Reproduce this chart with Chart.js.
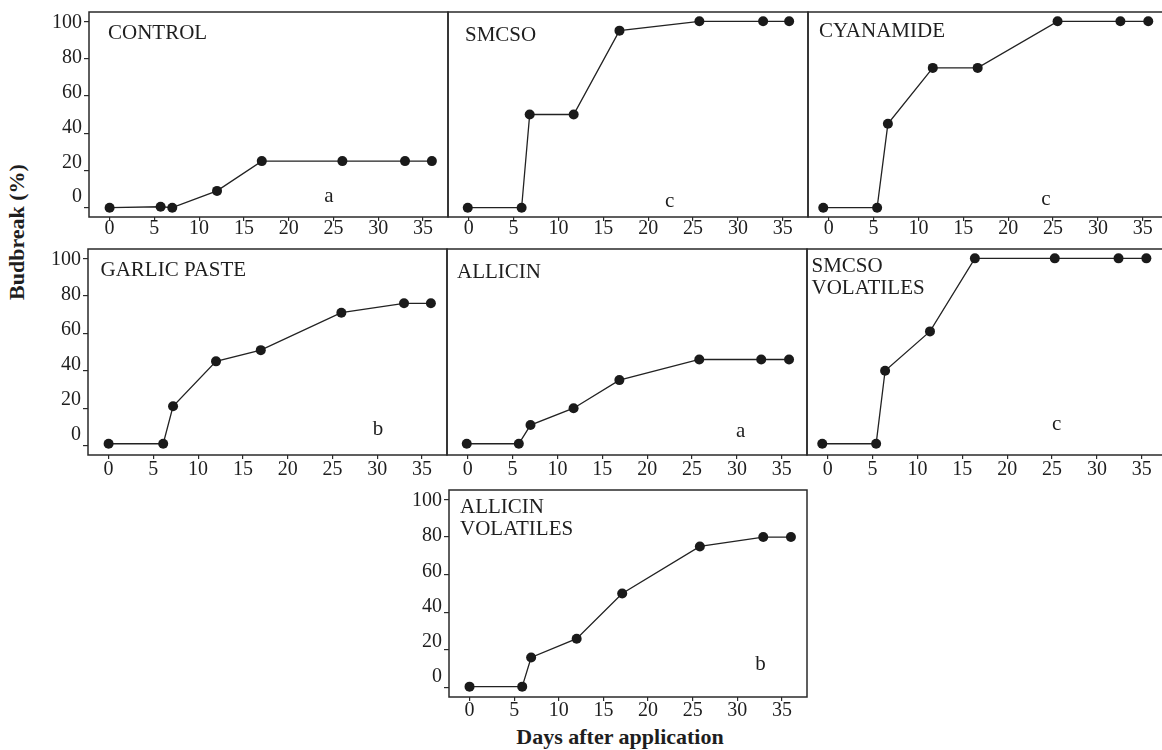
<!DOCTYPE html>
<html>
<head>
<meta charset="utf-8">
<script src="https://cdn.jsdelivr.net/npm/chart.js@4.4.0/dist/chart.umd.min.js"></script>
<style>
html,body{margin:0;padding:0;background:#fff;overflow:hidden;width:1162px;height:750px;position:relative;font-family:"Liberation Serif","Times New Roman",serif;color:#1e1e1e;}
.pw{position:absolute;}
.pw canvas{display:block;}
#ytitle{position:absolute;left:17px;top:232px;transform:translate(-50%,-50%) rotate(-90deg);font-weight:bold;font-size:22px;line-height:22px;white-space:nowrap;}
#xtitle{position:absolute;left:620px;top:726px;transform:translateX(-50%);font-weight:bold;font-size:22px;line-height:22px;white-space:nowrap;}
</style>
</head>
<body>
<div id="ytitle">Budbreak (%)</div>
<div id="xtitle">Days after application</div>
<script>
// ---- data ----
const xTicks = [0, 5, 10, 15, 20, 25, 30, 35];
const yTicks = [0, 20, 40, 60, 80, 100];

const namesControl = ["CONTROL"];
const daysControl = [0, 5.7, 7, 12, 17, 26, 33, 36];
const valsControl = [0, 0.5, 0, 9, 25, 25, 25, 25];

const namesSmcso = ["SMCSO"];
const daysSmcso = [-0.1, 5.9, 6.8, 11.7, 16.8, 25.7, 32.8, 35.7];
const valsSmcso = [0, 0, 50, 50, 95, 100, 100, 100];

const namesCyanamide = ["CYANAMIDE"];
const daysCyanamide = [-0.6, 5.4, 6.6, 11.6, 16.6, 25.5, 32.5, 35.6];
const valsCyanamide = [0, 0, 45, 75, 75, 100, 100, 100];

const namesGarlic = ["GARLIC PASTE"];
const daysGarlic = [0, 6.1, 7.2, 12, 17, 26, 33, 36];
const valsGarlic = [1, 1, 21, 45, 51, 71, 76, 76];

const namesAllicin = ["ALLICIN"];
const daysAllicin = [-0.1, 5.7, 7, 11.8, 16.9, 25.8, 32.7, 35.8];
const valsAllicin = [1, 1, 11, 20, 35, 46, 46, 46];

const namesSmcsoVol = ["SMCSO", "VOLATILES"];
const daysSmcsoVol = [-0.6, 5.4, 6.4, 11.4, 16.4, 25.3, 32.4, 35.5];
const valsSmcsoVol = [1, 1, 40, 61, 100, 100, 100, 100];

const namesAllicinVol = ["ALLICIN", "VOLATILES"];
const daysAllicinVol = [0, 5.9, 6.9, 12, 17.1, 25.8, 32.9, 36];
const valsAllicinVol = [0.5, 0.5, 16, 26, 50, 75, 80, 80];

const groupLetters = ["a", "c", "c", "b", "a", "c", "b"];
const letterX = [24.5, 22.4, 24.2, 30.1, 30.4, 25.5, 32.6];
const letterY = [3.2, 0.5, 1.4, 5.7, 4.8, 8.3, 9.2];

// ---- layout (pixel frames of each panel) ----
const panels = [
  {names: namesControl, days: daysControl, vals: valsControl, l: 89, t: 12, r: 448, b: 217, showY: true, nx: 19, ny: 20, xlp: -2},
  {names: namesSmcso, days: daysSmcso, vals: valsSmcso, l: 448, t: 12, r: 808, b: 217, showY: false, nx: 17, ny: 22, xlp: -2},
  {names: namesCyanamide, days: daysCyanamide, vals: valsCyanamide, l: 808, t: 12, r: 1168, b: 217, showY: false, nx: 11, ny: 18, xlp: -2},
  {names: namesGarlic, days: daysGarlic, vals: valsGarlic, l: 87.5, t: 249, r: 447, b: 455, showY: true, nx: 12.5, ny: 20, xlp: 1},
  {names: namesAllicin, days: daysAllicin, vals: valsAllicin, l: 447, t: 249, r: 807, b: 455, showY: false, nx: 10, ny: 21.5, xlp: 1},
  {names: namesSmcsoVol, days: daysSmcsoVol, vals: valsSmcsoVol, l: 807, t: 249, r: 1167, b: 455, showY: false, nx: 4.5, ny: 16, xlp: 1},
  {names: namesAllicinVol, days: daysAllicinVol, vals: valsAllicinVol, l: 448.5, t: 490, r: 807, b: 697, showY: true, nx: 11, ny: 16, xlp: 0}
];

const FONT = "'Liberation Serif', 'Times New Roman', serif";
const INK = '#1e1e1e';
const AXW = 60, TW = 5, PT = 6, PR = 6, AXH = 34;

const framePlugin = {
  id: 'frameAndText',
  afterDatasetsDraw(chart) {
    const {ctx, chartArea: a} = chart;
    const p = chart.options.plugins.frameAndText;
    ctx.save();
    ctx.strokeStyle = '#2a2a2a';
    ctx.lineWidth = 1.5;
    ctx.strokeRect(a.left, a.top, a.right - a.left, a.bottom - a.top);
    ctx.fillStyle = INK;
    ctx.font = '21px ' + FONT;
    ctx.textAlign = 'left';
    ctx.textBaseline = 'alphabetic';
    p.names.forEach((n, k) => {
      ctx.fillText(n, a.left + p.nx, a.top + p.ny + 7 + k * 22);
    });
    ctx.textAlign = 'center';
    ctx.fillText(p.letter, chart.scales.x.getPixelForValue(p.lx), chart.scales.y.getPixelForValue(p.ly));
    ctx.restore();
  }
};

panels.forEach((p, i) => {
  const w = (p.r - p.l) + AXW + PR;
  const h = (p.b - p.t) + PT + AXH;
  const div = document.createElement('div');
  div.className = 'pw';
  div.style.left = (p.l - AXW) + 'px';
  div.style.top = (p.t - PT) + 'px';
  div.style.width = w + 'px';
  div.style.height = h + 'px';
  const cv = document.createElement('canvas');
  cv.width = w; cv.height = h;
  cv.style.width = w + 'px'; cv.style.height = h + 'px';
  div.appendChild(cv);
  document.body.appendChild(div);

  new Chart(cv, {
    type: 'line',
    data: {
      datasets: [{
        data: p.days.map((d, k) => ({x: d, y: p.vals[k]})),
        borderColor: '#222',
        borderWidth: 1.3,
        pointRadius: 5,
        pointHoverRadius: 5,
        pointBackgroundColor: '#1a1a1a',
        pointBorderColor: '#1a1a1a',
        pointBorderWidth: 0,
        tension: 0,
        fill: false,
        clip: false
      }]
    },
    options: {
      responsive: false,
      animation: false,
      devicePixelRatio: 1,
      events: [],
      layout: {padding: {left: p.showY ? 0 : AXW, top: PT, right: PR, bottom: 0}},
      plugins: {
        legend: {display: false},
        tooltip: {enabled: false},
        frameAndText: {names: p.names, nx: p.nx, ny: p.ny, letter: groupLetters[i], lx: letterX[i], ly: letterY[i]}
      },
      scales: {
        x: {
          type: 'linear', position: 'bottom', min: -2.3, max: 37.8,
          afterBuildTicks: s => { s.ticks = xTicks.map(v => ({value: v})); },
          afterFit: s => { s.height = AXH; s.paddingLeft = 0; s.paddingRight = 0; },
          grid: {display: true, drawOnChartArea: false, drawTicks: true, tickLength: 4, color: '#2a2a2a', lineWidth: 1.2},
          border: {display: false},
          ticks: {font: {family: FONT, size: 20, lineHeight: 1}, color: INK, padding: p.xlp, maxRotation: 0, autoSkip: false}
        },
        y: {
          type: 'linear', position: 'left', min: -5, max: 105, weight: 0, display: p.showY,
          afterBuildTicks: s => { s.ticks = yTicks.map(v => ({value: v})); },
          afterFit: s => { s.width = s.options.display ? TW : 0; s.paddingTop = 0; s.paddingBottom = 0; },
          grid: {display: true, drawOnChartArea: false, drawTicks: true, tickLength: 5, color: '#2a2a2a', lineWidth: 1.2},
          border: {display: false},
          ticks: {display: false}
        },
        yl: {
          type: 'linear', position: 'left', min: -11.4, max: 106.2, weight: 1, display: p.showY,
          afterBuildTicks: s => { s.ticks = yTicks.map(v => ({value: v})); },
          afterFit: s => { s.width = s.options.display ? AXW - TW : 0; s.paddingTop = 0; s.paddingBottom = 0; },
          grid: {display: false, drawTicks: false},
          border: {display: false},
          ticks: {font: {family: FONT, size: 20}, color: INK, padding: 2}
        }
      }
    },
    plugins: [framePlugin]
  });
});
</script>
</body>
</html>
